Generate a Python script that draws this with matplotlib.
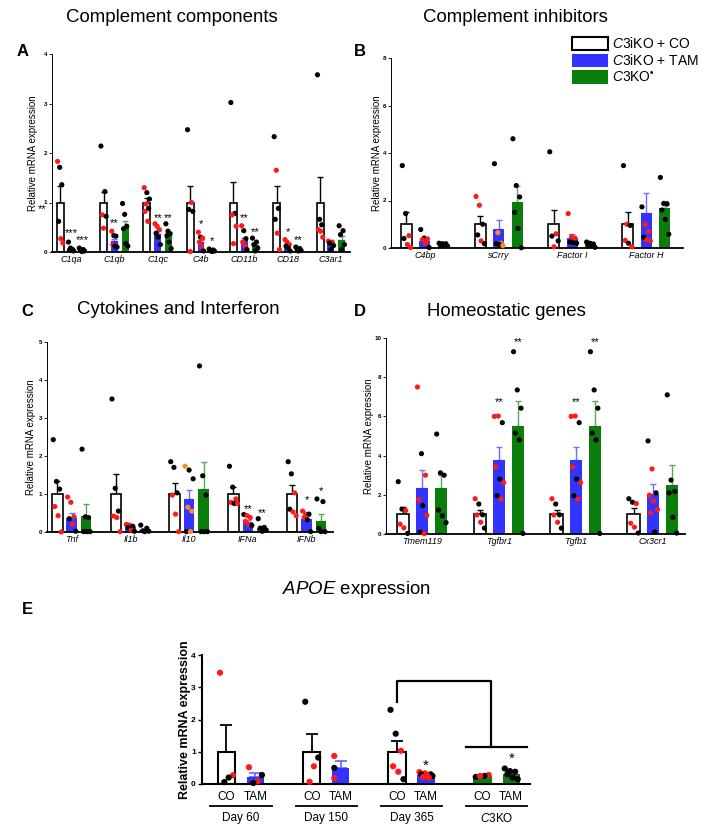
import numpy as np
import matplotlib
matplotlib.use("Agg")
import matplotlib.pyplot as plt
from matplotlib.patches import Patch

plt.rcParams['font.family'] = ['Liberation Sans', 'DejaVu Sans']
plt.rcParams['mathtext.fontset'] = 'custom'
plt.rcParams['mathtext.rm'] = 'Liberation Sans'
plt.rcParams['mathtext.it'] = 'Liberation Sans:italic'
plt.rcParams['mathtext.bf'] = 'Liberation Sans:bold'

# ---------------- A: complement components ----------------
genes_a = ['C1qa', 'C1qb', 'C1qc', 'C4b', 'CD11b', 'CD18', 'C3ar1']
mean_a_co = [1, 1, 1, 1, 1, 1, 1]
mean_a_tam = [0.05, 0.22, 0.37, 0.20, 0.24, 0.14, 0.16]
mean_a_ko = [0.04, 0.50, 0.33, 0.04, 0.14, 0.06, 0.24]
sem_a_co = [0.33, 0.22, 0.10, 0.33, 0.42, 0.34, 0.52]
sem_a_tam = [0.03, 0.05, 0.06, 0.05, 0.05, 0.04, 0.03]
sem_a_ko = [0.01, 0.13, 0.08, 0.01, 0.04, 0.02, 0.08]
pts_a_co = [[1.83, 1.71, 1.36, 0.62, 0.27, 0.18], [2.14, 1.22, 0.75, 0.72, 0.48],
            [1.30, 1.20, 1.07, 0.97, 0.88, 0.82, 0.62], [2.47, 1.00, 0.86, 0.82, 0.01],
            [3.02, 0.78, 0.75, 0.52, 0.17], [2.33, 1.65, 0.88, 0.66, 0.38, 0.05],
            [3.58, 0.66, 0.55, 0.45, 0.42, 0.30]]
col_a_co = ['rkkkrr', 'kkrkr', 'rkkrkrr', 'krkkr', 'kkrrr', 'krkkrr', 'kkkrrr']
pts_a_tam = [[0.20, 0.08, 0.05, 0.04, 0.03, 0.02], [0.42, 0.33, 0.32, 0.15, 0.12, 0.10],
             [0.57, 0.52, 0.45, 0.38, 0.30, 0.15], [0.40, 0.30, 0.28, 0.20, 0.12, 0.02],
             [0.53, 0.43, 0.27, 0.20, 0.12, 0.05], [0.25, 0.20, 0.15, 0.12, 0.08, 0.02],
             [0.22, 0.20, 0.18, 0.13, 0.05]]
col_a_tam = ['kkkkkk', 'rkkrkk', 'rrrkkk', 'rkrrrk', 'rkkrrk', 'rrrkkk', 'rrkkk']
pts_a_ko = [[0.08, 0.05, 0.03, 0.02, 0.01], [0.98, 0.76, 0.52, 0.47, 0.17, 0.12],
            [0.57, 0.42, 0.37, 0.33, 0.20, 0.07], [0.06, 0.04, 0.03, 0.02, 0.01],
            [0.28, 0.20, 0.15, 0.08, 0.02], [0.10, 0.07, 0.05, 0.03, 0.02],
            [0.53, 0.43, 0.35, 0.15, 0.05]]
col_a_ko = ['kkkkk', 'kkkkkk', 'kkkkkk', 'kkkkk', 'kkkkk', 'kkkkk', 'kkkkk']
stars_a = [(0, 1, '***', 0.38), (0, 2, '***', 0.24), (1, 1, '**', 0.58), (2, 1, '**', 0.68),
           (2, 2, '**', 0.68), (3, 1, '*', 0.56), (3, 2, '*', 0.22), (4, 1, '**', 0.68),
           (4, 2, '**', 0.41), (5, 1, '*', 0.41), (5, 2, '**', 0.25)]

# ---------------- B: complement inhibitors ----------------
genes_b = ['C4bp', 'sCrry', 'Factor I', 'Factor H']
mean_b_co = [1, 1, 1, 1]
mean_b_tam = [0.30, 0.78, 0.43, 1.48]
mean_b_ko = [0.17, 1.95, 0.15, 1.70]
sem_b_co = [0.52, 0.33, 0.62, 0.52]
sem_b_tam = [0.07, 0.42, 0.15, 0.85]
sem_b_ko = [0.02, 0.65, 0.03, 0.30]
pts_b_co = [[3.47, 1.45, 0.52, 0.40, 0.15, 0.02], [2.17, 1.80, 1.00, 0.55, 0.30, 0.18],
            [4.05, 0.60, 0.50, 0.30, 0.05], [3.47, 1.00, 0.95, 0.32, 0.20, 0.05]]
col_b_co = ['kkrkrr', 'rrkkrk', 'krkkr', 'krkrkr']
pts_b_tam = [[0.78, 0.42, 0.38, 0.35, 0.20, 0.02], [3.55, 0.65, 0.20, 0.18, 0.15, 0.10],
             [1.45, 0.48, 0.42, 0.25, 0.22, 0.20], [1.73, 1.00, 0.70, 0.45, 0.35, 0.30]]
col_b_tam = ['kkrrrk', 'kookko', 'rrrkkk', 'krrkrr']
pts_b_ko = [[0.20, 0.18, 0.18, 0.12, 0.10, 0.08], [4.60, 2.63, 2.15, 1.50, 0.82, 0.01],
            [0.25, 0.20, 0.17, 0.15, 0.10, 0.03], [2.97, 1.87, 1.85, 1.60, 1.20, 0.58]]
col_b_ko = ['kkkkkk'] * 4

# ---------------- C: cytokines and interferon ----------------
genes_c = ['Tnf', 'Il1b', 'Il10', 'IFNa', 'IFNb']
mean_c_co = [1, 1, 1, 1, 1]
mean_c_tam = [0.37, 0.12, 0.86, 0.27, 0.33]
mean_c_ko = [0.42, 0.06, 1.13, 0.10, 0.29]
sem_c_co = [0.33, 0.52, 0.28, 0.18, 0.23]
sem_c_tam = [0.13, 0.05, 0.24, 0.05, 0.08]
sem_c_ko = [0.32, 0.03, 0.70, 0.05, 0.18]
pts_c_co = [[2.43, 1.33, 1.13, 0.67, 0.43, 0.00], [3.50, 1.15, 0.55, 0.42, 0.38, 0.01],
            [1.85, 1.70, 1.03, 0.97, 0.47, 0.01], [1.73, 1.18, 0.87, 0.78, 0.75, 0.75],
            [1.85, 1.53, 1.03, 0.60, 0.53, 0.43]]
col_c_co = ['kkkrrr', 'kkkrrr', 'kkkrrr', 'kkrrkr', 'kkrkrr']
pts_c_tam = [[0.92, 0.78, 0.40, 0.35, 0.20, 0.02], [0.20, 0.18, 0.15, 0.12, 0.05, 0.02],
             [1.73, 1.63, 1.40, 0.65, 0.55, 0.01, 0.01], [0.46, 0.43, 0.38, 0.28, 0.20, 0.17],
             [0.55, 0.47, 0.47, 0.38, 0.32, 0.01]]
col_c_tam = ['rrrkrk', 'rrkkrk', 'okkooko', 'krrrrk', 'rrkrkk']
pts_c_ko = [[2.18, 0.40, 0.38, 0.01, 0.01, 0.01], [0.18, 0.10, 0.03, 0.02, 0.01],
            [4.37, 1.48, 0.97, 0.01, 0.01, 0.01], [0.35, 0.12, 0.10, 0.05, 0.02],
            [0.87, 0.80, 0.10, 0.01, 0.01]]
col_c_ko = ['kkkkkk', 'kkkkk', 'kkkkkk', 'kkkkk', 'kkkkk']
stars_c = [(3, 1, '**', 0.61), (3, 2, '**', 0.51), (4, 1, '*', 0.83), (4, 2, '*', 1.08)]

# ---------------- D: homeostatic genes ----------------
genes_d = ['Tmem119', 'Tgfbr1', 'Tgfb1', 'Cx3cr1']
mean_d_co = [1, 1, 1, 1]
mean_d_tam = [2.35, 3.80, 3.80, 2.03]
mean_d_ko = [2.33, 5.50, 5.50, 2.50]
sem_d_co = [0.40, 0.23, 0.23, 0.32]
sem_d_tam = [0.90, 0.65, 0.65, 0.50]
sem_d_ko = [0.70, 1.30, 1.30, 1.00]
pts_d_co = [[2.67, 1.27, 1.20, 0.50, 0.32, 0.03], [1.80, 1.53, 0.98, 0.97, 0.60, 0.30],
            [1.80, 1.53, 0.98, 0.97, 0.60, 0.30], [1.80, 1.62, 1.55, 0.55, 0.35, 0.05]]
col_d_co = ['kkrrrk', 'rkkrrk', 'rkkrrk', 'kkrrrk']
pts_d_tam = [[7.50, 4.10, 3.00, 1.75, 1.45, 0.95, 0.10, 0.02],
             [6.00, 6.02, 5.68, 3.42, 2.80, 2.62, 1.95, 1.78],
             [6.00, 6.02, 5.68, 3.42, 2.80, 2.62, 1.95, 1.78],
             [4.75, 3.32, 2.10, 1.98, 1.68, 1.25, 1.08, 0.10]]
col_d_tam = ['rkrrkrkr', 'rrkrkrkr', 'rrkrkrkr', 'krkrrrrk']
pts_d_ko = [[5.10, 3.12, 3.00, 1.22, 0.93, 0.58], [9.30, 7.35, 6.42, 5.15, 4.80, 0.03],
            [9.30, 7.35, 6.42, 5.15, 4.80, 0.03], [7.10, 2.75, 2.17, 2.10, 0.85, 0.05]]
col_d_ko = ['kkkkkk'] * 4
stars_d = [(1, 1, '**', 6.75), (1, 2, '**', 9.8), (2, 1, '**', 6.75), (2, 2, '**', 9.8)]

# ---------------- E: APOE ----------------
groups_e = ['Day 60', 'Day 150', 'Day 365', 'C3KO']
mean_e_co = [1.0, 1.0, 1.0, 0.22]
mean_e_tam = [0.22, 0.51, 0.28, 0.32]
sem_e_co = [0.82, 0.55, 0.33, 0.02]
sem_e_tam = [0.12, 0.20, 0.03, 0.05]
pts_e_co = [[3.45, 0.27, 0.20, 0.06], [2.55, 0.82, 0.55, 0.07],
            [2.30, 1.56, 1.03, 0.55, 0.38, 0.15], [0.22, 0.28, 0.25, 0.25]]
col_e_co = ['rrkk', 'kkrr', 'kkrrrk', 'krkr']
pts_e_tam = [[0.52, 0.28, 0.08, 0.03], [0.87, 0.50, 0.18],
             [0.37, 0.33, 0.30, 0.30, 0.28, 0.25, 0.22, 0.20], [0.48, 0.40, 0.38, 0.30, 0.20, 0.15]]
col_e_tam = ['rkrk', 'rkr', 'rrkkrkrr', 'kkkkkk']
stars_e = [(2, '*', 0.55), (3, '*', 0.77)]

dot_colors = {'k': 'black', 'r': '#ff1a1a', 'o': '#ff8c1a'}
fills = ['white', '#3333ff', '#0b7d0b']
err_colors = ['black', '#6f6fff', '#55aa55']

W, H = 709, 839
fig = plt.figure(figsize=(W / 100, H / 100), dpi=100)


def box(l, t, r, b):
    return [l / W, 1 - b / H, (r - l) / W, (b - t) / H]


def spread(n, width):
    if n == 1:
        return np.array([0.0])
    pos = np.linspace(-width * 0.38, width * 0.38, n)
    order = [(k * 3) % n for k in range(n)] if n % 3 else [(k * 2 + k // (n // 2)) % n for k in range(n)]
    return pos[order]


def panel(ax, genes, means, sems, pts, cols, offs, width, ymax, yticks, stars, ms):
    x = np.arange(len(genes))
    for g in range(3):
        xs = x + offs[g]
        ax.errorbar(xs, means[g], yerr=[np.zeros(len(xs)), sems[g]], fmt='none',
                    ecolor=err_colors[g], elinewidth=1.0, capsize=2, capthick=1.0, zorder=1)
        if g == 0:
            ax.bar(xs, means[g], width, color='white', edgecolor='black', linewidth=1.2, zorder=2)
        else:
            ax.bar(xs, means[g], width, color=fills[g], zorder=2)
        for i in range(len(genes)):
            vals = pts[g][i]
            dx = spread(len(vals), width)
            ax.scatter(xs[i] + dx, vals, s=ms, c=[dot_colors[c] for c in cols[g][i]],
                       linewidths=0, zorder=3, clip_on=False)
    for gi, grp, txt, y in stars:
        ax.text(x[gi] + offs[grp], y, txt, ha='center', va='center', fontsize=8, zorder=4)
    ax.set_ylim(0, ymax)
    ax.set_yticks(yticks)
    ax.set_xticks(x + offs[1])
    ax.set_xticklabels(genes, fontsize=6.5, style='italic')
    ax.tick_params(axis='x', length=0, pad=2)
    ax.tick_params(axis='y', length=2, width=0.6, labelsize=4.5, pad=1.5)
    for lab in ax.get_yticklabels():
        lab.set_fontweight('bold')
    for s in ['top', 'right']:
        ax.spines[s].set_visible(False)
    ax.spines['left'].set_linewidth(0.7)
    ax.spines['bottom'].set_linewidth(1.3)
    ax.set_ylabel('Relative mRNA expression', fontsize=7)


# A
ax_a = fig.add_axes(box(52, 54, 350, 252))
panel(ax_a, genes_a, [mean_a_co, mean_a_tam, mean_a_ko], [sem_a_co, sem_a_tam, sem_a_ko],
      [pts_a_co, pts_a_tam, pts_a_ko], [col_a_co, col_a_tam, col_a_ko],
      [-0.25, 0.0, 0.25], 0.16, 4, [0, 1, 2, 3, 4], stars_a, 14)
ax_a.set_xlim(-0.44, 6.44)
ax_a.yaxis.set_label_coords(-0.047, 0.5)
ax_a.text(-0.66, 0.86, '**', ha='center', va='center', fontsize=8, clip_on=False)

# B
ax_b = fig.add_axes(box(391, 58, 683, 248))
panel(ax_b, genes_b, [mean_b_co, mean_b_tam, mean_b_ko], [sem_b_co, sem_b_tam, sem_b_ko],
      [pts_b_co, pts_b_tam, pts_b_ko], [col_b_co, col_b_tam, col_b_ko],
      [-0.25, 0.0, 0.25], 0.15, 8, [0, 2, 4, 6, 8], [], 14)
ax_b.set_xlim(-0.46, 3.5)
ax_b.yaxis.set_label_coords(-0.031, 0.5)

# C
ax_c = fig.add_axes(box(47, 342, 333, 532))
panel(ax_c, genes_c, [mean_c_co, mean_c_tam, mean_c_ko], [sem_c_co, sem_c_tam, sem_c_ko],
      [pts_c_co, pts_c_tam, pts_c_ko], [col_c_co, col_c_tam, col_c_ko],
      [-0.245, 0.0, 0.245], 0.18, 5, [0, 1, 2, 3, 4, 5], stars_c, 14)
ax_c.set_xlim(-0.42, 4.45)
ax_c.yaxis.set_label_coords(-0.039, 0.5)

# D
ax_d = fig.add_axes(box(386, 338, 685, 534))
panel(ax_d, genes_d, [mean_d_co, mean_d_tam, mean_d_ko], [sem_d_co, sem_d_tam, sem_d_ko],
      [pts_d_co, pts_d_tam, pts_d_ko], [col_d_co, col_d_tam, col_d_ko],
      [-0.25, 0.0, 0.25], 0.16, 10, [0, 2, 4, 6, 8, 10], stars_d, 14)
ax_d.set_xlim(-0.47, 3.42)
ax_d.yaxis.set_label_coords(-0.04, 0.5)

# E
ax_e = fig.add_axes(box(202, 655, 530, 784))
xg = np.arange(len(groups_e))
x_co = xg - 0.17
x_tam = xg + 0.17
w_e = 0.2
fill_co = ['white', 'white', 'white', fills[2]]
fill_tam = [fills[1], fills[1], fills[1], fills[2]]
edge_co = ['black', 'black', 'black', fills[2]]
err_tam = [err_colors[1], err_colors[1], err_colors[1], err_colors[2]]
err_co = ['black', 'black', 'black', err_colors[2]]
for i in range(len(groups_e)):
    ax_e.errorbar(x_co[i], mean_e_co[i], yerr=[[0], [sem_e_co[i]]], fmt='none', ecolor=err_co[i],
                  elinewidth=1.3, capsize=4, capthick=1.3, zorder=1)
    ax_e.errorbar(x_tam[i], mean_e_tam[i], yerr=[[0], [sem_e_tam[i]]], fmt='none', ecolor=err_tam[i],
                  elinewidth=1.3, capsize=4, capthick=1.3, zorder=1)
ax_e.bar(x_co, mean_e_co, w_e, color=fill_co, edgecolor=edge_co, linewidth=1.5, zorder=2)
ax_e.bar(x_tam, mean_e_tam, w_e, color=fill_tam, zorder=2)
for i in range(len(groups_e)):
    for xs, vals, cols in [(x_co[i], pts_e_co[i], col_e_co[i]), (x_tam[i], pts_e_tam[i], col_e_tam[i])]:
        ax_e.scatter(xs + spread(len(vals), w_e), vals, s=20, c=[dot_colors[c] for c in cols],
                     linewidths=0, zorder=3, clip_on=False)
for gi, txt, y in stars_e:
    ax_e.text(x_tam[gi], y, txt, ha='center', va='center', fontsize=11, zorder=4)

# bracket Day 365 CO vs C3KO
xb_right = xg[3] - 0.07
ax_e.plot([x_co[2], x_co[2], xb_right, xb_right], [2.55, 3.2, 3.2, 1.15], color='black', lw=1.6,
          clip_on=False)
ax_e.plot([xg[3] - 0.36, xg[3] + 0.36], [1.15, 1.15], color='black', lw=1.6, clip_on=False)

ax_e.set_xlim(-0.457, 3.39)
ax_e.set_ylim(0, 4)
ax_e.set_yticks([0, 1, 2, 3, 4])
ax_e.set_xticks(np.concatenate([x_co, x_tam]))
ax_e.set_xticklabels(['CO'] * 4 + ['TAM'] * 4, fontsize=8.5)
ax_e.tick_params(axis='x', length=0, pad=5)
ax_e.tick_params(axis='y', length=3, width=1, labelsize=6, pad=1.5)
for lab in ax_e.get_yticklabels():
    lab.set_fontweight('bold')
for s in ['top', 'right']:
    ax_e.spines[s].set_visible(False)
ax_e.spines['left'].set_linewidth(1.5)
ax_e.spines['bottom'].set_linewidth(1.5)
ax_e.set_ylabel('Relative mRNA expression', fontsize=9, fontweight='bold')
ax_e.yaxis.set_label_coords(-0.034, 0.5)
trans = ax_e.get_xaxis_transform()
for i, name in enumerate(groups_e):
    ax_e.plot([xg[i] - 0.36, xg[i] + 0.36], [-0.168, -0.168], color='black', lw=1.3,
              transform=trans, clip_on=False)
    label = '$\\it{C3}$KO' if name == 'C3KO' else name
    ax_e.text(xg[i], -0.264, label, transform=trans, ha='center', va='center', fontsize=8.5)

# legend
handles = [Patch(facecolor='white', edgecolor='black', linewidth=1.5),
           Patch(facecolor=fills[1]), Patch(facecolor=fills[2])]
labels = ['$\\it{C3}$iKO + CO', '$\\it{C3}$iKO + TAM', '$\\it{C3}$KO$^{•}$']
fig.legend(handles, labels, loc='upper left', bbox_to_anchor=(572 / W, 1 - 36 / H), frameon=False,
           fontsize=10, handlelength=2.6, handleheight=1.1, handletextpad=0.3, labelspacing=0.15,
           borderaxespad=0, borderpad=0)

# titles and panel letters
def ftext(x, y, s, **kw):
    fig.text(x / W, 1 - y / H, s, ha='center', va='center', **kw)

ftext(172, 18, 'Complement components', fontsize=13.4)
ftext(515, 18, 'Complement inhibitors', fontsize=13.4)
ftext(178, 310, 'Cytokines and Interferon', fontsize=13.4)
ftext(506, 312, 'Homeostatic genes', fontsize=13.4)
ftext(356, 590, '$\\it{APOE}$ expression', fontsize=13.4)
ftext(23, 52, 'A', fontsize=12, fontweight='bold')
ftext(360, 52, 'B', fontsize=12, fontweight='bold')
ftext(27, 311, 'C', fontsize=12, fontweight='bold')
ftext(360, 311, 'D', fontsize=12, fontweight='bold')
ftext(27, 609, 'E', fontsize=12, fontweight='bold')

fig.savefig('out.png', dpi=100)
